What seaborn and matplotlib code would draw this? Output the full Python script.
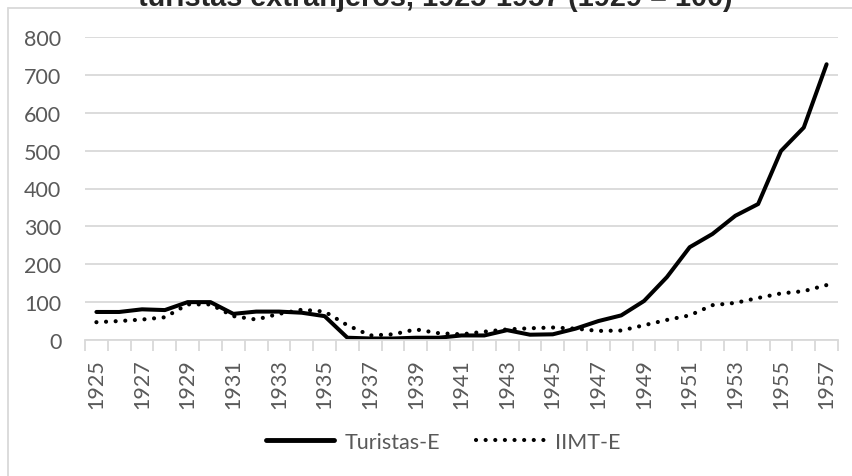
import matplotlib
matplotlib.use("Agg")
import matplotlib.pyplot as plt
import seaborn as sns
from matplotlib.lines import Line2D
from matplotlib.ticker import FixedLocator, NullFormatter

# datos
years = list(range(1925, 1958))
turistas_e = [74, 74, 81, 79, 100, 100, 69, 75, 75, 72, 63, 6, 4, 4, 6,
              6, 12, 12, 26, 14, 15, 30, 50, 65, 103, 166, 245, 280, 328, 359,
              499, 561, 728]
iimt_e = [47, 50, 54, 60, 94, 94, 63, 54, 69, 80, 75, 39, 12, 15, 28,
          18, 15, 22, 28, 31, 33, 30, 24, 25, 39, 53, 65, 92, 98, 111,
          123, 129, 145]
year_labels = [str(y) for y in years[::2]]
titulo = "turistas extranjeros, 1925-1957 (1929 = 100)"

sns.set_theme(style="white")
plt.rcParams["font.family"] = ["Lato", "DejaVu Sans"]

gris_txt = "#595959"
gris_lin = "#d9d9d9"
punteado = (0, (0.01, 2.3))

fig = plt.figure(figsize=(8.53, 4.77), dpi=100)
ax = fig.add_axes([85 / 853, 1 - 341 / 477, (838 - 85) / 853, (341 - 38) / 477])

"Líneas"
sns.lineplot(x=years, y=turistas_e, color="black", linewidth=2.9, ax=ax,
             solid_capstyle="round", solid_joinstyle="round")
sns.lineplot(x=years, y=iimt_e, color="black", linewidth=3.0, ax=ax,
             linestyle=punteado, dash_capstyle="round")

"Ejes"
ax.set_xlim(1924.5, 1957.5)
ax.set_ylim(0, 800)
ax.set_yticks(range(0, 801, 100))
ax.yaxis.grid(True, color=gris_lin, linewidth=1.3)
ax.xaxis.grid(False)
ax.set_axisbelow(True)
for side in ["left", "right", "top"]:
    ax.spines[side].set_visible(False)
ax.spines["bottom"].set_color(gris_lin)
ax.spines["bottom"].set_linewidth(1.3)

ax.set_xticks(years[::2])
ax.set_xticklabels(year_labels, rotation=90, fontsize=15.5, color=gris_txt)
ax.xaxis.set_minor_locator(FixedLocator([y - 0.5 for y in years] + [years[-1] + 0.5]))
ax.xaxis.set_minor_formatter(NullFormatter())
ax.tick_params(axis="x", which="major", length=0, pad=13)
ax.tick_params(axis="x", which="minor", length=8, width=1.3, color=gris_lin,
               direction="out", bottom=True)
ax.tick_params(axis="y", length=0, pad=17, labelsize=15.5, labelcolor=gris_txt)
ax.set_xlabel("")
ax.set_ylabel("")

"Leyenda"
handles = [
    Line2D([], [], color="black", linewidth=3.5, solid_capstyle="round"),
    Line2D([], [], color="black", linewidth=3.0, linestyle=punteado,
           dash_capstyle="round"),
]
leg = fig.legend(handles, ["Turistas-E", "IIMT-E"], loc="center",
                 bbox_to_anchor=(443 / 853, 1 - 443 / 477), ncol=2, frameon=False,
                 fontsize=15.5, handlelength=3.2, handletextpad=0.45,
                 columnspacing=1.7)
for t in leg.get_texts():
    t.set_color(gris_txt)

"Marco y título"
fig.add_artist(Line2D([8 / 853, 8 / 853], [0, 1 - 9 / 477],
                      transform=fig.transFigure, color=gris_lin, linewidth=1.3))
fig.add_artist(Line2D([8 / 853, 1], [1 - 9 / 477, 1 - 9 / 477],
                      transform=fig.transFigure, color=gris_lin, linewidth=1.3))
fig.text(435 / 853, 1 - 6 / 477, titulo, ha="center", va="baseline",
         fontsize=20.8, fontweight="bold", family=["Liberation Sans", "DejaVu Sans"])

fig.savefig("out.png", dpi=100, facecolor="white")
plt.close(fig)
